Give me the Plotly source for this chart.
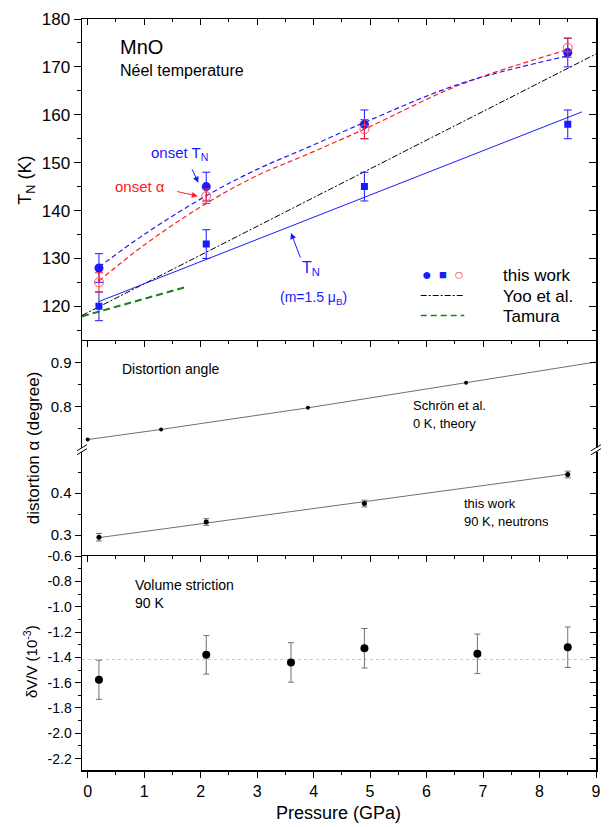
import plotly.graph_objects as go

# ---------------- data ----------------
P_tn = [0.2, 2.1, 4.9, 8.5]
onset_TN = [128, 145, 158, 173]
onset_TN_err = [3, 3, 3, 3]
onset_alpha = [125, 143, 157, 174]
onset_alpha_err = [2, 1.5, 2, 2]
TN_sq = [120, 133, 145, 158]
TN_sq_err = [3, 3, 3, 3]

fit_P = [0.2, 1.0, 2.1, 3.0, 3.9, 4.9, 6.6, 8.5]
fit_onset_TN = [128.2, 135.0, 143.1, 148.6, 153.2, 158.4, 166.5, 172.3]
fit_onset_alpha = [125.3, 132.8, 141.5, 147.3, 151.8, 157.0, 166.3, 173.6]

yoo_P = [-0.1, 9.0]
yoo_T = [118.1, 172.7]
tn_fit_P = [0.2, 8.75]
tn_fit_T = [121.0, 160.6]
tamura_P = [-0.1, 1.76]
tamura_T = [117.9, 124.1]

schron_P = [0.0, 1.3, 3.9, 6.7]
schron_alpha = [0.726, 0.749, 0.798, 0.855]
schron_line_P = [0.0, 1.3, 3.9, 6.7, 9.0]
schron_line = [0.726, 0.749, 0.798, 0.855, 0.902]

alpha_P = [0.2, 2.1, 4.9, 8.5]
alpha_val = [0.295, 0.331, 0.375, 0.444]
alpha_err = [0.009, 0.008, 0.008, 0.008]
alpha_fit_P = [0.2, 8.5]
alpha_fit = [0.294, 0.445]

dvv_P = [0.2, 2.1, 3.6, 4.9, 6.9, 8.5]
dvv = [-1.577, -1.380, -1.440, -1.328, -1.372, -1.320]
dvv_err = [0.155, 0.152, 0.156, 0.156, 0.156, 0.160]
dvv_mean = -1.417

x_ticks = [0, 1, 2, 3, 4, 5, 6, 7, 8, 9]
tn_ticks = [120, 130, 140, 150, 160, 170, 180]
alpha_hi_ticks = [0.8, 0.9]
alpha_lo_ticks = [0.3, 0.4]
dvv_ticks = [-0.6, -0.8, -1.0, -1.2, -1.4, -1.6, -1.8, -2.0, -2.2]
dvv_ticktext = ["-0.6", "-0.8", "-1.0", "-1.2", "-1.4", "-1.6", "-1.8", "-2.0", "-2.2"]

# ---------------- geometry ----------------
W, H = 611, 827
L, R, T, B = 82, 10, 15, 57
PW, PH = W - L - R, H - T - B


def xp(px):
    return (px - L) / PW


def yp(py):
    return (H - B - py) / PH


D_TOP = [yp(339), 1.0]
D_MHI = [yp(448), yp(339)]
D_MLO = [yp(555), yp(448)]
D_BOT = [0.0, yp(555)]

FONT = "Liberation Sans, Arial, sans-serif"
BLUE = "#1a1aff"
RED = "#ff2020"
GREEN = "#1a7f1a"
GRAY = "#707070"

fig = go.Figure()

# ---- top panel ----
fig.add_trace(go.Scatter(x=tamura_P, y=tamura_T, mode="lines",
                         line=dict(color=GREEN, width=2, dash="7px,4px"), xaxis="x", yaxis="y"))
fig.add_trace(go.Scatter(x=yoo_P, y=yoo_T, mode="lines",
                         line=dict(color="black", width=1, dash="6px,2px,2px,2px"), xaxis="x", yaxis="y"))
fig.add_trace(go.Scatter(x=tn_fit_P, y=tn_fit_T, mode="lines",
                         line=dict(color=BLUE, width=1), xaxis="x", yaxis="y"))
fig.add_trace(go.Scatter(x=fit_P, y=fit_onset_alpha, mode="lines", line_shape="spline",
                         line=dict(color=RED, width=1.2, dash="5px,3px"), xaxis="x", yaxis="y"))
fig.add_trace(go.Scatter(x=fit_P, y=fit_onset_TN, mode="lines", line_shape="spline",
                         line=dict(color=BLUE, width=1.2, dash="5px,3px"), xaxis="x", yaxis="y"))
fig.add_trace(go.Scatter(x=P_tn, y=TN_sq, mode="markers",
                         marker=dict(symbol="square", size=7, color=BLUE),
                         error_y=dict(type="data", array=TN_sq_err, color=BLUE, thickness=1, width=4),
                         xaxis="x", yaxis="y"))
fig.add_trace(go.Scatter(x=P_tn, y=onset_TN, mode="markers",
                         marker=dict(symbol="circle", size=9, color=BLUE),
                         error_y=dict(type="data", array=onset_TN_err, color=BLUE, thickness=1, width=4),
                         xaxis="x", yaxis="y"))
fig.add_trace(go.Scatter(x=P_tn, y=onset_alpha, mode="markers",
                         marker=dict(symbol="circle-open", size=9, color="#ff5050", line=dict(width=1)),
                         error_y=dict(type="data", array=onset_alpha_err, color=RED, thickness=1, width=4),
                         xaxis="x", yaxis="y"))

# ---- middle panel ----
fig.add_trace(go.Scatter(x=schron_line_P, y=schron_line, mode="lines",
                         line=dict(color=GRAY, width=1), xaxis="x", yaxis="y2"))
fig.add_trace(go.Scatter(x=schron_P, y=schron_alpha, mode="markers",
                         marker=dict(size=4, color="black"), xaxis="x", yaxis="y2"))
fig.add_trace(go.Scatter(x=alpha_fit_P, y=alpha_fit, mode="lines",
                         line=dict(color=GRAY, width=1), xaxis="x", yaxis="y3"))
fig.add_trace(go.Scatter(x=alpha_P, y=alpha_val, mode="markers",
                         marker=dict(size=5, color="black"),
                         error_y=dict(type="data", array=alpha_err, color=GRAY, thickness=1, width=3),
                         xaxis="x", yaxis="y3"))

# ---- bottom panel ----
fig.add_trace(go.Scatter(x=[-0.1, 9.0], y=[dvv_mean, dvv_mean], mode="lines",
                         line=dict(color="#c8c8c8", width=1, dash="dot"), xaxis="x", yaxis="y4"))
fig.add_trace(go.Scatter(x=dvv_P, y=dvv, mode="markers",
                         marker=dict(size=8, color="black"),
                         error_y=dict(type="data", array=dvv_err, color=GRAY, thickness=1, width=3),
                         xaxis="x", yaxis="y4"))

# dummy traces so that every auxiliary axis is drawn
for xa, ya in [("x2", "y"), ("x3", "y2"), ("x4", "y4"),
               ("x", "y5"), ("x", "y6"), ("x", "y7"), ("x", "y8")]:
    fig.add_trace(go.Scatter(x=[None], y=[None], mode="markers", xaxis=xa, yaxis=ya,
                             showlegend=False, hoverinfo="skip"))

XR = [-0.1, 9.0]
YR_TOP = [112.7, 180.0]
YR_MHI = [0.703, 0.949]
YR_MLO = [0.250, 0.503]
YR_BOT = [-2.29, -0.60]

common_x = dict(range=XR, showgrid=False, zeroline=False, showline=True,
                linecolor="black", linewidth=1.5, tickcolor="black")
common_y = dict(showgrid=False, zeroline=False, showline=True,
                linecolor="black", linewidth=1.5, tickcolor="black")

layout = dict(
    width=W, height=H,
    margin=dict(l=L, r=R, t=T, b=B),
    paper_bgcolor="white", plot_bgcolor="rgba(0,0,0,0)",
    showlegend=False, hovermode=False,
    font=dict(family=FONT, color="black"),
    xaxis=dict(**common_x, domain=[0, 1], anchor="y4", ticks="outside", ticklen=6,
               tickmode="array", tickvals=x_ticks, tickfont=dict(family=FONT, size=16),
               minor=dict(ticks="outside", ticklen=3, dtick=0.5, tick0=0, tickcolor="black")),
    xaxis2=dict(**common_x, overlaying="x", anchor="y", side="top", ticks="inside", ticklen=6,
                tickmode="array", tickvals=x_ticks, showticklabels=False,
                minor=dict(ticks="inside", ticklen=3, dtick=0.5, tick0=0, tickcolor="black")),
    xaxis3=dict(**common_x, overlaying="x", anchor="y2", side="top", ticks="inside", ticklen=6,
                tickmode="array", tickvals=x_ticks, showticklabels=False,
                minor=dict(ticks="inside", ticklen=3, dtick=0.5, tick0=0, tickcolor="black")),
    xaxis4=dict(**common_x, overlaying="x", anchor="y4", side="top", ticks="inside", ticklen=6,
                tickmode="array", tickvals=x_ticks, showticklabels=False,
                minor=dict(ticks="inside", ticklen=3, dtick=0.5, tick0=0, tickcolor="black")),
    yaxis=dict(**common_y, domain=D_TOP, anchor="x", range=YR_TOP, ticks="outside", ticklen=7,
               tickmode="array", tickvals=tn_ticks, tickfont=dict(family=FONT, size=17),
               minor=dict(ticks="outside", ticklen=4, dtick=5, tick0=0, tickcolor="black")),
    yaxis2=dict(**common_y, domain=D_MHI, anchor="x", range=YR_MHI, ticks="outside", ticklen=6,
                tickmode="array", tickvals=alpha_hi_ticks, ticktext=["0.8", "0.9"],
                tickfont=dict(family=FONT, size=15),
                minor=dict(ticks="outside", ticklen=3, dtick=0.05, tick0=0, tickcolor="black")),
    yaxis3=dict(**common_y, domain=D_MLO, anchor="x", range=YR_MLO, ticks="outside", ticklen=6,
                tickmode="array", tickvals=alpha_lo_ticks, ticktext=["0.3", "0.4"],
                tickfont=dict(family=FONT, size=15),
                minor=dict(ticks="outside", ticklen=3, tickmode="array", tickvals=[0.35, 0.45],
                           tickcolor="black")),
    yaxis4=dict(**common_y, domain=D_BOT, anchor="x", range=YR_BOT, ticks="outside", ticklen=6,
                tickmode="array", tickvals=dvv_ticks, ticktext=dvv_ticktext,
                tickfont=dict(family=FONT, size=14),
                minor=dict(ticks="outside", ticklen=3, dtick=0.1, tick0=0, tickcolor="black")),
    yaxis5=dict(**common_y, overlaying="y", anchor="x", side="right", range=YR_TOP, ticks="inside",
                ticklen=7, tickmode="array", tickvals=tn_ticks, showticklabels=False,
                minor=dict(ticks="inside", ticklen=4, dtick=5, tick0=0, tickcolor="black")),
    yaxis6=dict(**common_y, overlaying="y2", anchor="x", side="right", range=YR_MHI, ticks="inside",
                ticklen=6, tickmode="array", tickvals=alpha_hi_ticks, showticklabels=False,
                minor=dict(ticks="inside", ticklen=3, dtick=0.05, tick0=0, tickcolor="black")),
    yaxis7=dict(**common_y, overlaying="y3", anchor="x", side="right", range=YR_MLO, ticks="inside",
                ticklen=6, tickmode="array", tickvals=alpha_lo_ticks, showticklabels=False,
                minor=dict(ticks="inside", ticklen=3, tickmode="array", tickvals=[0.35, 0.45],
                           tickcolor="black")),
    yaxis8=dict(**common_y, overlaying="y4", anchor="x", side="right", range=YR_BOT, ticks="inside",
                ticklen=6, tickmode="array", tickvals=dvv_ticks, showticklabels=False,
                minor=dict(ticks="inside", ticklen=3, dtick=0.1, tick0=0, tickcolor="black")),
)
fig.update_layout(**layout)

# ---------------- annotations ----------------
ann = []


def txt(px, py, text, size, color="black", xanchor="left", angle=0):
    ann.append(dict(x=xp(px), y=yp(py), xref="paper", yref="paper", text=text, showarrow=False,
                    xanchor=xanchor, yanchor="middle", textangle=angle,
                    font=dict(family=FONT, size=size, color=color)))


txt(118, 43, "MnO", 20)
txt(118, 67, "Néel temperature", 16)
txt(150, 150, "onset T<sub>N</sub>", 15, BLUE)
txt(113, 183, "onset α", 15, RED)
txt(302, 266, "T<sub>N</sub>", 16, BLUE)
txt(280, 295, "(m=1.5 μ<sub>B</sub>)", 14, BLUE)

# legend
txt(423, 272, "●", 16, BLUE)
txt(440, 272, "■", 13, BLUE)
txt(456, 272, "○", 16, "#ff5050")
txt(505, 273, "this work", 17)
txt(505, 294, "Yoo et al.", 17)
txt(505, 314, "Tamura", 17)

txt(120, 367, "Distortion angle", 14)
txt(414, 404, "Schrön et al.", 13)
txt(414, 422, "0 K, theory", 13)
txt(466, 502, "this work", 13)
txt(466, 520, "90 K, neutrons", 13)

txt(133, 584, "Volume striction", 14)
txt(133, 602, "90 K", 14)

# axis titles
txt(26, 177, "T<sub>N</sub> (K)", 18, xanchor="center", angle=-90)
txt(33, 446, "distortion α (degree)", 17, xanchor="center", angle=-90)
txt(30, 661, "δV/V (10<sup>-3</sup>)", 15, xanchor="center", angle=-90)
txt(341, 813, "Pressure (GPa)", 18, xanchor="center")


# arrows
def arrow(x, y, ax, ay, color):
    ann.append(dict(x=x, y=y, xref="x", yref="y", ax=ax, ay=ay, axref="pixel", ayref="pixel",
                    text="", showarrow=True, arrowhead=2, arrowsize=1.2, arrowwidth=1,
                    arrowcolor=color))


arrow(1.96, 145.8, -7, -15, BLUE)
arrow(1.95, 143.0, -22, -5, RED)
arrow(3.60, 135.3, 10, 26, BLUE)

fig.update_layout(annotations=ann)

# ---------------- shapes: legend line samples & axis breaks ----------------
shapes = []
shapes.append(dict(type="line", xref="paper", yref="paper", x0=xp(424), x1=xp(468),
                   y0=yp(293), y1=yp(293), line=dict(color="black", width=1, dash="6px,2px,2px,2px")))
shapes.append(dict(type="line", xref="paper", yref="paper", x0=xp(424), x1=xp(468),
                   y0=yp(313), y1=yp(313), line=dict(color=GREEN, width=1.5, dash="6px,4px")))
for bx in (L, L + PW):
    shapes.append(dict(type="rect", xref="paper", yref="paper", x0=xp(bx - 4), x1=xp(bx + 4),
                       y0=yp(450), y1=yp(446), fillcolor="white", line=dict(width=0)))
    shapes.append(dict(type="line", xref="paper", yref="paper", x0=xp(bx - 5), x1=xp(bx + 5),
                       y0=yp(449), y1=yp(443), line=dict(color="black", width=1)))
    shapes.append(dict(type="line", xref="paper", yref="paper", x0=xp(bx - 5), x1=xp(bx + 5),
                       y0=yp(453), y1=yp(447), line=dict(color="black", width=1)))
fig.update_layout(shapes=shapes)

fig.write_html("out.html", config={"displayModeBar": False, "staticPlot": True},
               post_script="document.body.style.margin='0';document.body.style.overflow='hidden';")
